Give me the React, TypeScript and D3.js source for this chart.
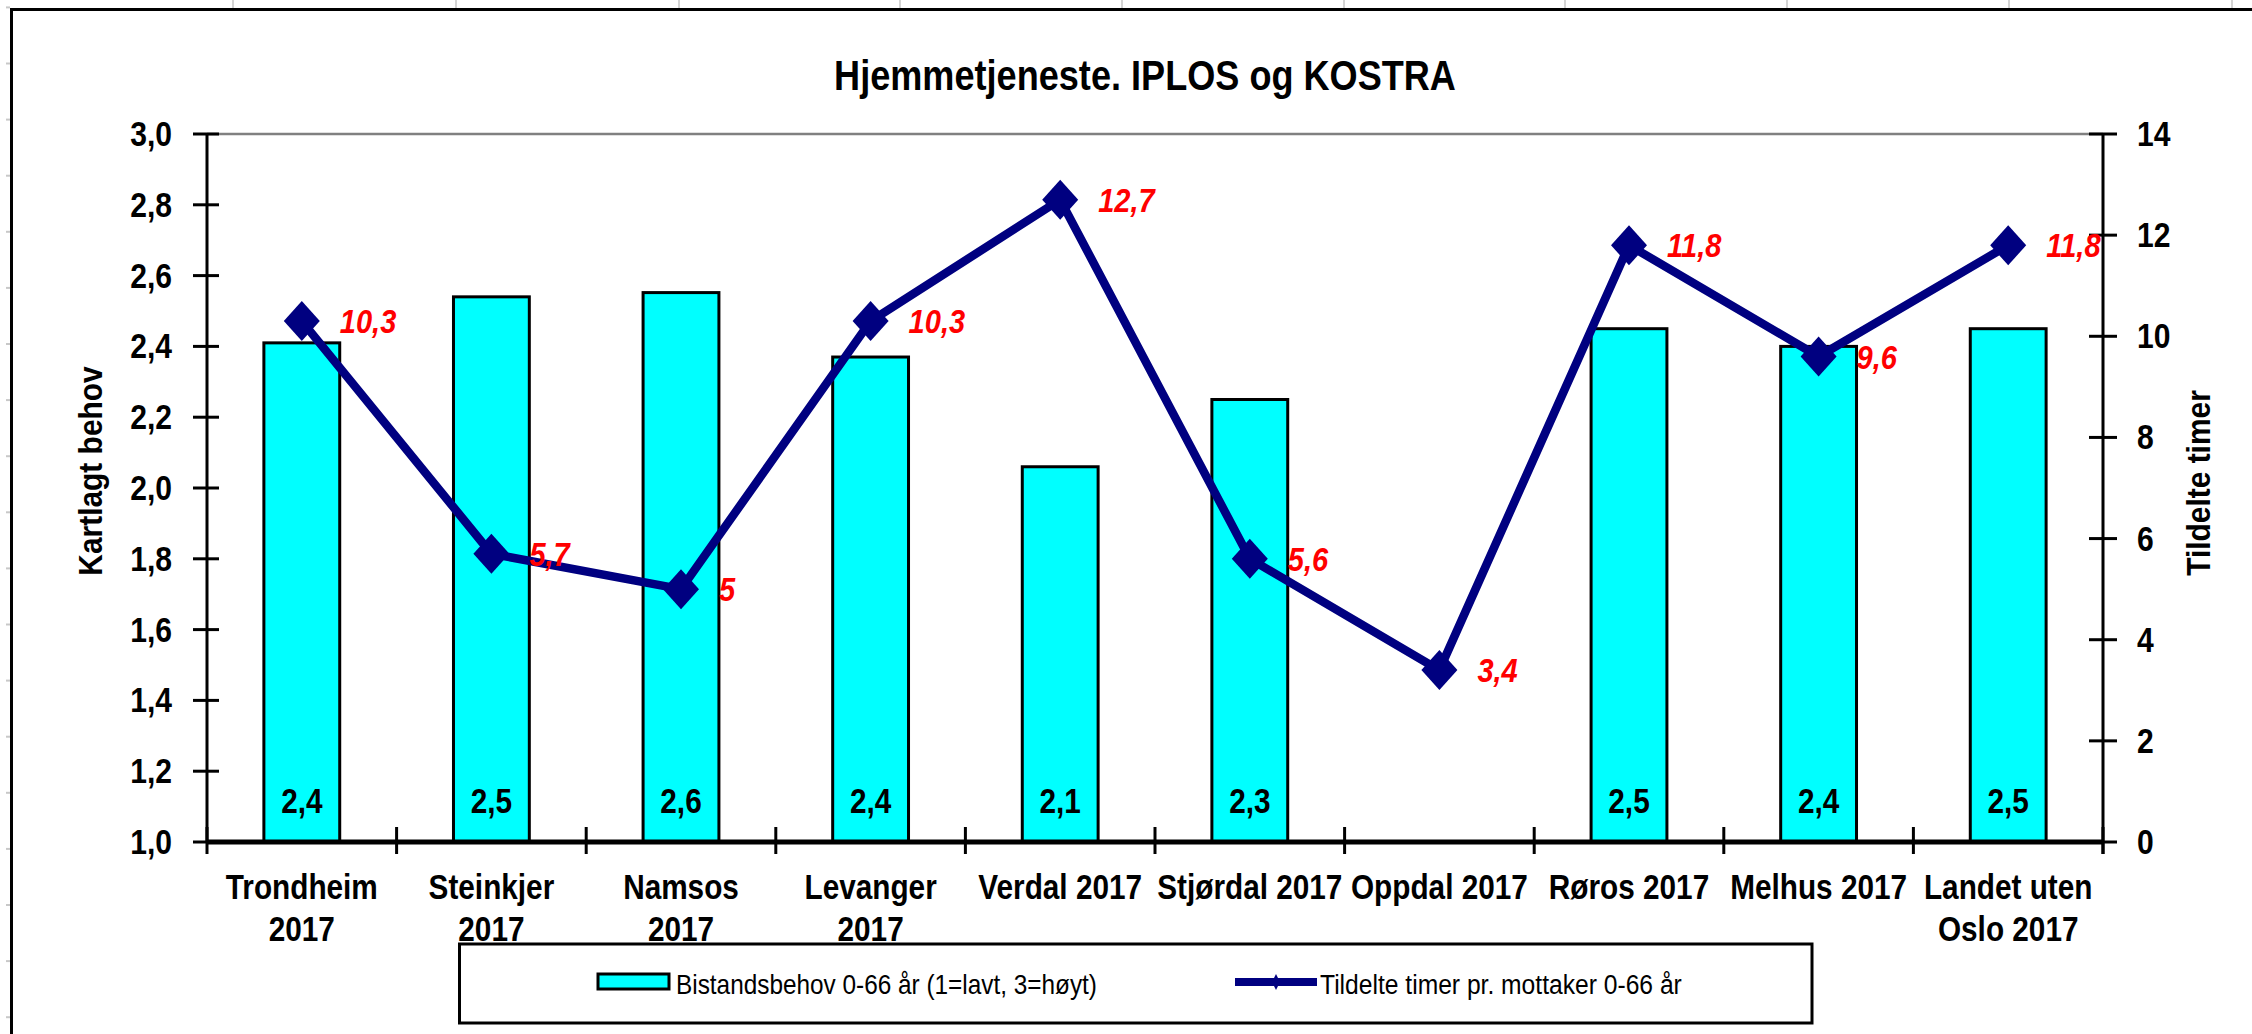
import React from 'react';
import * as d3 from 'd3';

// chart data
const categories = [
  'Trondheim 2017', 'Steinkjer 2017', 'Namsos 2017', 'Levanger 2017', 'Verdal 2017',
  'Stjørdal 2017', 'Oppdal 2017', 'Røros 2017', 'Melhus 2017', 'Landet uten Oslo 2017',
];
const categoryLines = [
  ['Trondheim', '2017'], ['Steinkjer', '2017'], ['Namsos', '2017'], ['Levanger', '2017'], ['Verdal 2017'],
  ['Stjørdal 2017'], ['Oppdal 2017'], ['Røros 2017'], ['Melhus 2017'], ['Landet uten', 'Oslo 2017'],
];
const bistandsbehov: (number | null)[] = [2.41, 2.54, 2.552, 2.37, 2.06, 2.25, null, 2.45, 2.40, 2.45];
const tildelteTimer = [10.3, 5.7, 5, 10.3, 12.7, 5.6, 3.4, 11.8, 9.6, 11.8];
const leftTicks = [1.0, 1.2, 1.4, 1.6, 1.8, 2.0, 2.2, 2.4, 2.6, 2.8, 3.0];
const rightTicks = [0, 2, 4, 6, 8, 10, 12, 14];

const title = 'Hjemmetjeneste. IPLOS og KOSTRA';
const leftTitle = 'Kartlagt behov';
const rightTitle = 'Tildelte timer';
const barLegend = 'Bistandsbehov 0-66 år (1=lavt, 3=høyt)';
const lineLegend = 'Tildelte timer pr. mottaker 0-66 år';

const W = 2252;
const H = 1034;
const FONT = '"Liberation Sans", Arial, sans-serif';
const NAVY = '#000080';
const CYAN = '#00FFFF';

const comma = (v: number, digits = 1) => v.toFixed(digits).replace('.', ',');
const commaRaw = (v: number) => String(v).replace('.', ',');

// text squeezed horizontally, like the narrow font in the original
const CText = ({ x, y, sx = 0.85, rotate = 0, anchor = 'start', size = 35, weight = 'bold', italic = false, fill = '#000', children }: any) => (
  <text
    transform={`translate(${x},${y})${rotate ? ` rotate(${rotate})` : ''} scale(${sx},1)`}
    textAnchor={anchor}
    fontSize={size}
    fontWeight={weight}
    fontStyle={italic ? 'italic' : 'normal'}
    fill={fill}
    fontFamily={FONT}
  >
    {children}
  </text>
);

const diamond = (cx: number, cy: number, rx: number, ry: number) =>
  `M${cx},${cy - ry}L${cx + rx},${cy}L${cx},${cy + ry}L${cx - rx},${cy}Z`;

export default function App() {
  const left = 207, right = 2103, top = 134, bottom = 842;

  const x = d3.scaleBand<string>().domain(categories).range([left, right]).paddingInner(0).paddingOuter(0);
  const yL = d3.scaleLinear().domain([1, 3]).range([bottom, top]);
  const yR = d3.scaleLinear().domain([0, 14]).range([bottom, top]);
  const bw = x.bandwidth();
  const barW = bw * 0.4;
  const cx = (c: string) => (x(c) as number) + bw / 2;

  const linePath = d3.line<number>()
    .x((_, i) => cx(categories[i]))
    .y(d => yR(d))(tildelteTimer) as string;

  const boundaries = d3.range(categories.length + 1).map(i => left + i * bw);
  const colLines = [233, 456, 679, 900, 1122, 1344, 1565, 1787, 2009, 2232];
  const rowLines = d3.range(7.4, H, 56.1);

  return (
    <svg width={W} height={H} style={{ position: 'absolute', left: 0, top: 0, background: '#fff' }}>
      <rect x={0} y={0} width={W} height={H} fill="#fff" />

      {/* spreadsheet cell lines behind the chart */}
      {colLines.map(cxl => (
        <line key={cxl} x1={cxl} x2={cxl} y1={0} y2={8} stroke="#d4d4d4" strokeWidth={2} />
      ))}
      {rowLines.map(ry => (
        <line key={ry} x1={6} x2={10} y1={ry} y2={ry} stroke="#c8c8c8" strokeWidth={2} />
      ))}

      {/* chart frame */}
      <line x1={10} x2={W} y1={9.5} y2={9.5} stroke="#000" strokeWidth={3} />
      <line x1={11.5} x2={11.5} y1={8} y2={H} stroke="#000" strokeWidth={3} />

      <CText x={1145} y={90} anchor="middle" size={43} sx={0.84}>{title}</CText>

      {/* plot top border */}
      <line x1={left} x2={right} y1={top} y2={top} stroke="#808080" strokeWidth={2.5} />

      {/* bars */}
      {categories.map((c, i) => {
        const v = bistandsbehov[i];
        if (v == null) return null;
        return (
          <rect key={c} x={cx(c) - barW / 2} y={yL(v)} width={barW} height={yL(1) - yL(v)}
            fill={CYAN} stroke="#000" strokeWidth={3} />
        );
      })}
      {categories.map((c, i) => {
        const v = bistandsbehov[i];
        if (v == null) return null;
        return <CText key={c} x={cx(c)} y={813} anchor="middle" size={35}>{comma(v)}</CText>;
      })}

      {/* left axis */}
      <line x1={left} x2={left} y1={top} y2={bottom} stroke="#000" strokeWidth={3} />
      {leftTicks.map(t => (
        <g key={t}>
          <line x1={193} x2={219} y1={yL(t)} y2={yL(t)} stroke="#000" strokeWidth={3} />
          <CText x={172} y={yL(t) + 12} anchor="end" size={35} sx={0.86}>{comma(t)}</CText>
        </g>
      ))}
      <CText x={102} y={471} rotate={-90} anchor="middle" size={34} sx={0.88}>{leftTitle}</CText>

      {/* right axis */}
      <line x1={right} x2={right} y1={top} y2={bottom + 12} stroke="#000" strokeWidth={3} />
      {rightTicks.map(t => (
        <g key={t}>
          <line x1={2089} x2={2117} y1={yR(t)} y2={yR(t)} stroke="#000" strokeWidth={3} />
          <CText x={2137} y={yR(t) + 12} anchor="start" size={35} sx={0.86}>{t}</CText>
        </g>
      ))}
      <CText x={2210} y={483} rotate={-90} anchor="middle" size={34} sx={0.88}>{rightTitle}</CText>

      {/* category axis */}
      <line x1={left} x2={right} y1={bottom} y2={bottom} stroke="#000" strokeWidth={5} />
      {boundaries.map(b => (
        <line key={b} x1={b} x2={b} y1={827} y2={854} stroke="#000" strokeWidth={3} />
      ))}
      {categories.map((c, i) => (
        <g key={c}>
          {categoryLines[i].map((ln, j) => (
            <CText key={j} x={cx(c)} y={899 + j * 41.5} anchor="middle" size={35} sx={0.85}>{ln}</CText>
          ))}
        </g>
      ))}

      {/* line series */}
      <path d={linePath} fill="none" stroke={NAVY} strokeWidth={8.5} strokeLinejoin="miter" />
      {tildelteTimer.map((v, i) => (
        <path key={i} d={diamond(cx(categories[i]), yR(v), 18, 20)} fill={NAVY} />
      ))}
      {tildelteTimer.map((v, i) => (
        <CText key={i} x={cx(categories[i]) + 38} y={yR(v) + 12} size={33} sx={0.88} italic fill="#FF0000">
          {commaRaw(v)}
        </CText>
      ))}

      {/* legend */}
      <rect x={459.5} y={944} width={1352.5} height={79} fill="#fff" stroke="#000" strokeWidth={3} />
      <rect x={598} y={974} width={71} height={15} fill={CYAN} stroke="#000" strokeWidth={3} />
      <CText x={676} y={994} size={28} weight="normal" sx={0.87}>{barLegend}</CText>
      <line x1={1235} x2={1317} y1={982} y2={982} stroke={NAVY} strokeWidth={8} />
      <path d={diamond(1276, 982, 4, 8)} fill={NAVY} />
      <CText x={1320} y={994} size={28} weight="normal" sx={0.88}>{lineLegend}</CText>
    </svg>
  );
}
